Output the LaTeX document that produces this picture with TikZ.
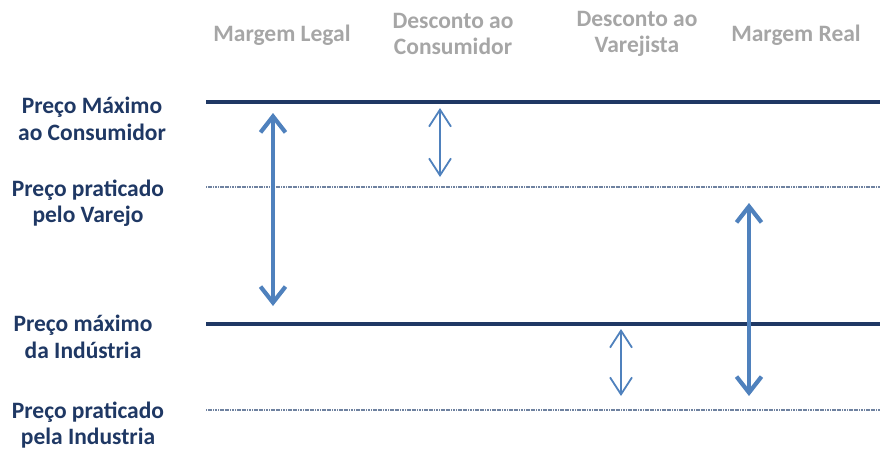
\documentclass[tikz,border=0pt]{standalone}
\usepackage{fontspec}
\setmainfont{Carlito}
\usetikzlibrary{arrows.meta}
\definecolor{navy}{HTML}{1F3864}
\definecolor{headgray}{HTML}{A6A6A6}
\definecolor{arrowblue}{HTML}{4F81BD}
\definecolor{dotline}{HTML}{6F82A0}
\begin{document}
\begin{tikzpicture}[x=1pt,y=-1pt,
  pricelabel/.style={text=navy,font=\bfseries\fontsize{23.5}{26.5}\selectfont,align=center,inner sep=0pt},
  headlabel/.style={text=headgray,font=\bfseries\fontsize{23.5}{26.5}\selectfont,align=center,inner sep=0pt},
  solidlevel/.style={draw=navy,line width=3.2pt},
  dottedlevel/.style={draw=dotline,line width=2.3pt,dash pattern=on 1.2pt off 0.5pt},
  bigarrow/.style={draw=arrowblue,line width=4.2pt,{Straight Barb[length=16pt,width=25pt,line width=4.2pt]}-{Straight Barb[length=16pt,width=25pt,line width=4.2pt]}},
  smallarrow/.style={draw=arrowblue,line width=1.8pt,{Straight Barb[length=17pt,width=22pt,line width=1.8pt]}-{Straight Barb[length=17pt,width=22pt,line width=1.8pt]}}]
\useasboundingbox (0,0) rectangle (880,450);

% column headers
\node[headlabel] (hlegal) at (282,35) {Margem Legal};
\node[headlabel] (hcons) at (453,34) {Desconto ao\\Consumidor};
\node[headlabel] (hvar) at (637,34) {Desconto ao\\Varejista};
\node[headlabel] (hreal) at (796,35) {Margem Real};

% price level labels
\node[pricelabel] (pmc) at (92,119) {Preço Máximo\\ao Consumidor};
\node[pricelabel] (ppv) at (88,203) {Preço praticado\\pelo Varejo};
\node[pricelabel] (pmi) at (83,337) {Preço máximo\\da Indústria};
\node[pricelabel] (ppi) at (88,425) {Preço praticado\\pela Industria};

% price level lines
\coordinate (l1a) at (206,102); \coordinate (l1b) at (880,102);
\coordinate (l2a) at (206,187); \coordinate (l2b) at (880,187);
\coordinate (l3a) at (206,324); \coordinate (l3b) at (880,324);
\coordinate (l4a) at (206,410); \coordinate (l4b) at (880,410);
\draw[solidlevel] (l1a) -- (l1b);
\draw[dottedlevel] (l2a) -- (l2b);
\draw[solidlevel] (l3a) -- (l3b);
\draw[dottedlevel] (l4a) -- (l4b);

% margin and discount arrows
\coordinate (legalTop) at (273,113); \coordinate (legalBot) at (273,306);
\coordinate (consTop) at (440,108); \coordinate (consBot) at (440,177);
\coordinate (varTop) at (621,329); \coordinate (varBot) at (621,396);
\coordinate (realTop) at (749,203); \coordinate (realBot) at (749,396);
\draw[bigarrow] (legalTop) -- (legalBot);
\draw[smallarrow] (consTop) -- (consBot);
\draw[smallarrow] (varTop) -- (varBot);
\draw[bigarrow] (realTop) -- (realBot);
\end{tikzpicture}
\end{document}
